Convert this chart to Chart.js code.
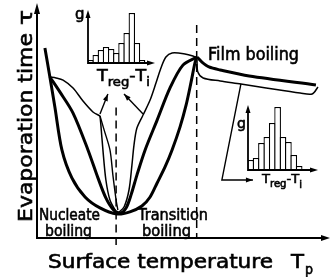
<!DOCTYPE html>
<html>
<head>
<meta charset="utf-8">
<script src="https://cdn.jsdelivr.net/npm/chart.js@4.4.1/dist/chart.umd.min.js"></script>
<style>
  html, body { margin: 0; padding: 0; background: #fff; }
  #wrap { position: relative; width: 332px; height: 277px; }
  #wrap canvas { position: absolute; }
</style>
</head>
<body>
<div id="wrap">
  <canvas id="main" width="332" height="277" style="left:0;top:0"></canvas>
  <canvas id="hist1" width="95" height="95" style="left:70px;top:0"></canvas>
  <canvas id="hist2" width="107" height="95" style="left:225px;top:100px"></canvas>
</div>
<script>
// Schematic: surface temperature (x) vs evaporation time (y), arbitrary units 0-100
const outerCurve = [[2.7,81.5],[4.4,69.1],[6.1,56.2],[8.5,37.8],[11.9,25.8],[16.4,17.6],[21.5,12.9],[27.3,10.3],[31.7,11.2],[35.8,13.7],[38.6,17.6],[41.0,23.6],[43.7,30.5],[46.1,37.8],[48.8,47.6],[50.9,57.1],[52.6,67.0],[53.9,75.1],[54.6,77.7]];
const innerCurve = [[4.4,69.1],[7.8,62.7],[12.3,53.6],[17.4,37.8],[20.8,25.8],[23.5,17.2],[25.9,12.4],[28.3,10.7],[30.4,12.9],[32.1,18.5],[34.1,27.0],[36.9,37.8],[41.0,50.6],[45.4,64.4],[49.8,74.2],[54.6,77.7]];
const filmCurve = [[54.6,77.7],[56.3,75.5],[58.7,73.4],[62.5,72.1],[72.4,69.5],[95.2,65.7]];

// thin scatter band lines
const leftBandUpper = [[4.4,69.1],[6.5,68.7],[8.9,67.8],[12.3,64.4],[15.7,58.8],[19.1,54.1],[21.5,52.4]];
const leftBandLower = [[21.5,52.4],[21.8,48.5],[22.5,37.8],[23.5,25.0],[24.9,16.3],[27.0,11.2]];
const leftBandInner = [[21.5,52.4],[22.9,46.4],[24.9,37.8],[25.9,27.0],[27.0,16.3],[27.6,12.0]];
const rightBandLower = [[27.6,10.7],[29.7,13.3],[31.4,20.6],[32.4,31.3],[33.1,39.9],[34.1,47.2],[36.2,52.8]];
const rightBandUpper = [[36.2,52.8],[38.6,59.2],[40.6,66.5],[42.3,73.0],[44.0,77.7],[46.1,79.4],[50.5,79.0],[53.2,78.1],[54.6,77.3]];
const filmBand = [[54.6,76.4],[54.9,71.2],[56.7,68.7],[62.5,67.4],[69.6,66.1],[78.2,64.4],[89.8,62.2],[93.9,61.8],[95.9,64.8]];

// leader arrows to the histograms
const leftLeader = [[21.5,53.2],[24.2,61.8]];
const rightLeader = [[36.2,53.2],[29.7,61.8]];
const filmLeader = [[69.6,66.1],[63.1,24.9],[73.7,24.9]];

// regime boundaries
const nucleateLimit = [[27.0,56.0],[27.0,-3.0]];
const leidenfrostLimit = [[54.5,91.4],[54.5,0]];

// histograms g(Treg - Ti)
const histBins = ['1','2','3','4','5','6','7','8','9','10','11','12','13'];
const histLeft = [3, 8, 13, 16, 14, 10, 20, 30, 50, 20, 3];
const histRight = [10, 12, 27, 33, 47, 63, 33, 28, 15, 4];

const FONT = '"DejaVu Sans", sans-serif';

function toXY(points) {
    return points.map(p => ({ x: p[0], y: p[1] }));
}

function curve(points, width, extra) {
    return Object.assign({
        data: toXY(points),
        borderColor: '#000',
        borderWidth: width,
        pointRadius: 0,
        tension: 0.3,
        fill: false,
        clip: false
    }, extra || {});
}

function arrowHead(ctx, x0, y0, x1, y1, len, half) {
    const a = Math.atan2(y1 - y0, x1 - x0);
    ctx.beginPath();
    ctx.moveTo(x1, y1);
    ctx.lineTo(x1 - len * Math.cos(a) + half * Math.sin(a), y1 - len * Math.sin(a) - half * Math.cos(a));
    ctx.lineTo(x1 - len * Math.cos(a) - half * Math.sin(a), y1 - len * Math.sin(a) + half * Math.cos(a));
    ctx.closePath();
    ctx.fill();
}

// medium-weight text: regular glyphs with a thin outline
function inkText(ctx, text, x, y) {
    ctx.fillText(text, x, y);
    ctx.strokeText(text, x, y);
}

// draw text squeezed/stretched to a given width
function fitText(ctx, text, x, y, width, size) {
    ctx.font = size + 'px ' + FONT;
    const w = ctx.measureText(text).width;
    ctx.save();
    ctx.translate(x, y);
    ctx.scale(width / w, 1);
    inkText(ctx, text, 0, 0);
    ctx.restore();
}

// "T_reg - T_i" label
function tLabel(ctx, x, y, size, subSize, width) {
    const parts = [
        { t: 'T', s: size, dy: 0 },
        { t: 'reg', s: subSize, dy: subSize * 0.4 },
        { t: '-', s: size, dy: 0 },
        { t: 'T', s: size, dy: 0 },
        { t: 'i', s: subSize, dy: subSize * 0.45 }
    ];
    let total = 0;
    parts.forEach(p => { ctx.font = p.s + 'px ' + FONT; p.w = ctx.measureText(p.t).width; total += p.w; });
    ctx.save();
    ctx.translate(x, y);
    ctx.scale(width / total, 1);
    let cx = 0;
    parts.forEach(p => {
        ctx.font = p.s + 'px ' + FONT;
        inkText(ctx, p.t, cx, p.dy);
        cx += p.w;
    });
    ctx.restore();
}

const mainDecor = {
    id: 'mainDecor',
    afterDatasetsDraw(chart) {
        const ctx = chart.ctx;
        const xs = chart.scales.x, ys = chart.scales.y;
        ctx.save();
        ctx.fillStyle = '#000';
        ctx.strokeStyle = '#000';

        // arrowheads on leader lines
        chart.data.datasets.forEach((ds, i) => {
            if (!ds.arrow) return;
            const pts = chart.getDatasetMeta(i).data;
            const a = pts[pts.length - 2], b = pts[pts.length - 1];
            arrowHead(ctx, a.x, a.y, b.x, b.y, 7, 2.5);
        });

        // axes
        const x0 = xs.getPixelForValue(0), y0 = ys.getPixelForValue(0);
        const xEnd = xs.getPixelForValue(100), yEnd = ys.getPixelForValue(100) - 2;
        ctx.lineWidth = 2;
        ctx.beginPath();
        ctx.moveTo(x0, yEnd + 6);
        ctx.lineTo(x0, y0);
        ctx.lineTo(xEnd - 6, y0);
        ctx.stroke();
        arrowHead(ctx, x0, y0, xEnd, y0, 9, 3);
        arrowHead(ctx, x0, y0, x0, yEnd, 11, 3);

        // texts
        ctx.textBaseline = 'alphabetic';
        ctx.lineWidth = 0.6;
        fitText(ctx, 'Nucleate', 39, 220, 61, 16);
        fitText(ctx, 'boiling', 45, 236, 47, 16);
        fitText(ctx, 'Transition', 138, 220, 70, 16);
        fitText(ctx, 'boiling', 142, 236, 49, 16);
        fitText(ctx, 'Film boiling', 208, 60, 91, 17);

        fitText(ctx, 'Surface temperature', 48, 268, 225, 19);
        fitText(ctx, 'T', 291, 268, 13, 19);
        fitText(ctx, 'p', 305, 274, 8, 14);

        ctx.save();
        ctx.translate(32, 222);
        ctx.rotate(-Math.PI / 2);
        fitText(ctx, 'Evaporation time', 0, 0, 189, 20);
        fitText(ctx, 'τ', 197, 0, 15, 20);
        ctx.restore();

        ctx.restore();
    }
};

new Chart(document.getElementById('main'), {
    type: 'line',
    data: {
        datasets: [
            curve(outerCurve, 3),
            curve(innerCurve, 3),
            curve(filmCurve, 3),
            curve(leftBandUpper, 1.5),
            curve(leftBandLower, 1.5),
            curve(leftBandInner, 1.4),
            curve(rightBandLower, 1.5),
            curve(rightBandUpper, 1.5),
            curve(filmBand, 1.5),
            curve(leftLeader, 1.4, { tension: 0, arrow: true }),
            curve(rightLeader, 1.4, { tension: 0, arrow: true }),
            curve(filmLeader, 1.4, { tension: 0, arrow: true }),
            curve(nucleateLimit, 1.5, { tension: 0, borderDash: [8, 5] }),
            curve(leidenfrostLimit, 1.5, { tension: 0, borderDash: [8, 5] })
        ]
    },
    options: {
        responsive: false,
        animation: false,
        events: [],
        layout: { padding: { left: 37, right: 2, top: 5, bottom: 39 } },
        scales: {
            x: { type: 'linear', min: 0, max: 100, display: false },
            y: { type: 'linear', min: 0, max: 100, display: false }
        },
        plugins: { legend: { display: false }, tooltip: { enabled: false } }
    },
    plugins: [mainDecor]
});

// inset histogram with axis arrows and labels
function histDecor(opts) {
    return {
        id: 'histDecor',
        afterDatasetsDraw(chart) {
            const ctx = chart.ctx;
            const a = chart.chartArea;
            ctx.save();
            ctx.fillStyle = '#000';
            ctx.strokeStyle = '#000';
            ctx.lineWidth = 1.8;
            ctx.beginPath();
            ctx.moveTo(a.left, a.top + 6);
            ctx.lineTo(a.left, a.bottom);
            ctx.lineTo(a.right - 5, a.bottom);
            ctx.stroke();
            arrowHead(ctx, a.left, a.bottom, a.left, a.top, 8, 2.5);
            arrowHead(ctx, a.left, a.bottom, a.right, a.bottom, 8, 2.5);
            ctx.lineWidth = 0.6;
            ctx.font = opts.gSize + 'px ' + FONT;
            inkText(ctx, 'g', opts.gx, opts.gy);
            tLabel(ctx, opts.tx, opts.ty, opts.tSize, opts.subSize, opts.tWidth);
            ctx.restore();
        }
    };
}

function histogram(id, values, yMax, padding, decor) {
    const canvas = document.getElementById(id);
    const catWidth = (canvas.width - padding.left - padding.right) / histBins.length;
    new Chart(canvas, {
        type: 'bar',
        data: {
            labels: histBins,
            datasets: [{
                data: values,
                backgroundColor: '#fff',
                borderColor: '#000',
                borderWidth: 1.3,
                barPercentage: (catWidth + 1.3) / catWidth,
                categoryPercentage: 1
            }]
        },
        options: {
            responsive: false,
            animation: false,
            events: [],
            layout: { padding: padding },
            scales: {
                x: { display: false },
                y: { display: false, min: 0, max: yMax }
            },
            plugins: { legend: { display: false }, tooltip: { enabled: false } }
        },
        plugins: [histDecor(decor)]
    });
}

histogram('hist1', histLeft, 53, { left: 18, right: 10, top: 10, bottom: 32 },
    { gx: 5, gy: 19, gSize: 15, tx: 27, ty: 81, tSize: 16, subSize: 12, tWidth: 53 });
histogram('hist2', histRight, 65, { left: 23, right: 14, top: 5, bottom: 25 },
    { gx: 12, gy: 28, gSize: 14, tx: 37, ty: 83, tSize: 13, subSize: 10, tWidth: 40 });
</script>
</body>
</html>
